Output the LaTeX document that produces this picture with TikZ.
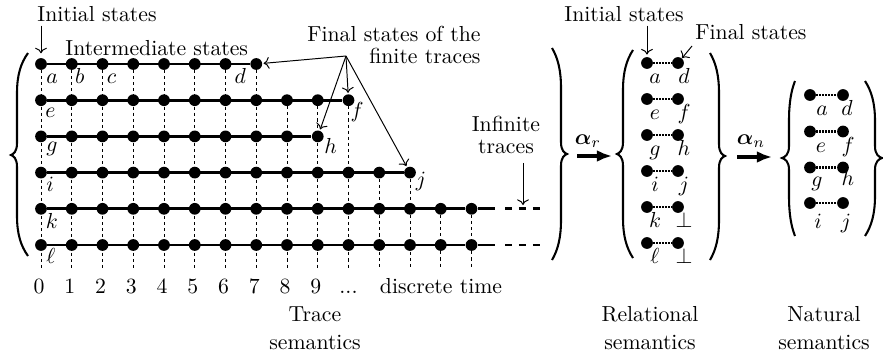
\documentclass[tikz,border=0pt]{standalone}
\usepackage{amsmath,amssymb,bm}
\usetikzlibrary{arrows.meta,backgrounds}
\newcommand\bracepath[6]{%
  \draw[brc] (#1,#2) .. controls ({#4+0.35*(#1-#4)},{#2+10}) and (#4,{#2+22}) .. (#4,{#2+40})
  -- (#4,{#6-12}) .. controls (#4,{#6-3}) and ({#5+0.4*(#4-#5)},{#6-1}) .. (#5,#6)
  .. controls ({#5+0.4*(#4-#5)},{#6+1}) and (#4,{#6+3}) .. (#4,{#6+12})
  -- (#4,{#3-40}) .. controls (#4,{#3-22}) and ({#4+0.35*(#1-#4)},{#3-10}) .. (#1,#3);}
\begin{document}
\begin{tikzpicture}[x=0.46pt,y=-0.46pt,
  dot/.style={circle,fill,inner sep=0pt,minimum size=5.4pt},
  trace/.style={line width=1.2pt},
  vgrid/.style={line width=0.4pt,dash pattern=on 1.4pt off 1.4pt},
  lbl/.style={anchor=base,inner sep=0pt},
  txt/.style={inner sep=0pt},
  thinarr/.style={->,line width=0.45pt},
  bigarr/.style={-{Latex[length=7pt,width=5.5pt]},line width=1.5pt},
  pair/.style={line width=1.2pt,dash pattern=on 0.75pt off 0.6pt},
  brc/.style={line width=0.95pt}]
\useasboundingbox (0,0) rectangle (883,363);

% ---- trace grid
\foreach \r/\last in {0/7,1/10,2/9,3/12,4/14,5/14}{
  \foreach \c in {0,...,\last}{
    \node[dot] (d\r-\c) at ({41+30.75*\c},{64+36.2*\r}) {};
  }
  \draw[trace] (d\r-0) -- (d\r-\last);
}
\begin{pgfonlayer}{background}
\foreach \c/\t in {0/0,1/0,2/0,3/0,4/0,5/0,6/0,7/0,8/1,9/1,10/1,11/3,12/3,13/4,14/4}{
  \coordinate (b\c) at ({41+30.75*\c},268);
  \draw[vgrid] (d\t-\c.center) -- (b\c);
}
\end{pgfonlayer}
\foreach \r in {4,5}{
  \coordinate (te\r) at (495,{64+36.2*\r});
  \coordinate (ts\r) at (505,{64+36.2*\r});
  \coordinate (tf\r) at (542,{64+36.2*\r});
  \draw[trace] (d\r-14) -- (te\r);
  \draw[trace,dash pattern=on 3.2pt off 3.2pt] (ts\r) -- (tf\r);
}

% ---- state labels
\node[lbl] (la) at ([shift={(11,19)}]d0-0.center) {$a$};
\node[lbl] (lb) at ([shift={(8,19)}]d0-1.center) {$b$};
\node[lbl] (lc) at ([shift={(9,19)}]d0-2.center) {$c$};
\node[lbl] (ld) at ([shift={(-16,19)}]d0-7.center) {$d$};
\node[lbl] (le) at ([shift={(9.5,17)}]d1-0.center) {$e$};
\node[lbl] (lf) at ([shift={(8.5,17)}]d1-10.center) {$f$};
\node[lbl] (lg) at ([shift={(11,15)}]d2-0.center) {$g$};
\node[lbl] (lh) at ([shift={(13,17)}]d2-9.center) {$h$};
\node[lbl] (li) at ([shift={(9,19)}]d3-0.center) {$i$};
\node[lbl] (lj) at ([shift={(11,14)}]d3-12.center) {$j$};
\node[lbl] (lk) at ([shift={(11,20)}]d4-0.center) {$k$};
\node[lbl] (ll) at ([shift={(10,18)}]d5-0.center) {$\ell$};

% ---- time axis
\foreach \c in {0,...,9}{
  \node[lbl] (n\c) at ({39+30.75*\c},293) {\c};
}
\node[lbl] (ndots) at ({41+30.75*10},293) {...};
\node[lbl] (dtime) at (441,293) {discrete time};

% ---- annotations
\node[lbl,anchor=base west] (init1) at (37,21) {Initial states};
\draw[thinarr,shorten <=1.8pt,shorten >=2pt] (init1.south -| d0-0) -- (d0-0);
\node[lbl,anchor=base west] (inter) at (65,55) {Intermediate states};
\node[txt,align=right,anchor=north east,font=\fontsize{10}{10}\selectfont] (fin) at (481,26) {Final states of the\\finite traces};
\coordinate (fs) at (346,56);
\foreach \t in {d0-7,d1-10,d2-9,d3-12}{
  \draw[thinarr,shorten >=0.5pt] (fs) -- (\t);
}
\node[txt,align=center,anchor=north,font=\fontsize{10}{10}\selectfont] (inf) at (506,116) {Infinite\\traces};
\coordinate (ia) at (523,205);
\draw[thinarr,shorten <=4pt] (inf.south -| ia) -- (ia);

\node[txt,align=center,anchor=north,font=\fontsize{10}{12.9}\selectfont] (tsem) at (315,306) {Trace\\semantics};
\node[txt,align=center,anchor=north,font=\fontsize{10}{12.9}\selectfont] (rsem) at (650,306) {Relational\\semantics};
\node[txt,align=center,anchor=north,font=\fontsize{10}{12.9}\selectfont] (nsem) at (824,306) {Natural\\semantics};

% ---- braces
\bracepath{28}{53}{256}{17}{11}{155}
\bracepath{552}{48}{260}{561}{567}{154}
\bracepath{633}{50}{258}{623}{617}{154}
\bracepath{710}{53}{260}{719}{725}{156}
\bracepath{795}{81}{236}{789}{782}{158}
\bracepath{865}{81}{236}{875}{882}{158}

% ---- abstractions
\coordinate (ar1) at (577,156);
\coordinate (ar2) at (612,156);
\draw[bigarr] (ar1) -- (ar2);
\node[lbl] (alr) at (588,144) {$\bm{\alpha}_r$};
\coordinate (an1) at (737,157);
\coordinate (an2) at (772,157);
\draw[bigarr] (an1) -- (an2);
\node[lbl] (aln) at (751,144) {$\bm{\alpha}_n$};

% ---- relational semantics
\foreach \r/\L/\R in {0/a/d,1/e/f,2/g/h,3/i/j,4/k/\bot,5/\ell/\bot}{
  \node[dot] (rl\r) at (647,{63+36*\r}) {};
  \node[dot] (rr\r) at (678,{63+36*\r}) {};
  \draw[pair] (rl\r) -- (rr\r);
  \node[lbl] (rlt\r) at ([shift={(8,20)}]rl\r.center) {$\L$};
  \node[lbl] (rrt\r) at ([shift={(6,20)}]rr\r.center) {$\R$};
}
\node[lbl] (init2) at (624,21) {Initial states};
\draw[thinarr,shorten <=1.8pt,shorten >=1pt] (init2.south -| rl0) -- (rl0);
\node[lbl,anchor=base west] (fin2) at (695,39) {Final states};
\coordinate (fa) at (692,46);
\draw[thinarr] (fa) -- (rr0);

% ---- natural semantics
\foreach \r/\y/\L/\lx/\ly/\R/\rx/\ry in {0/95/a/12/20/d/4/20,1/131.5/e/11/20.5/f/5/20.5,2/167.5/g/7/19/h/5/18,3/203/i/8/25/j/3/25}{
  \node[dot] (nl\r) at (810,\y) {};
  \node[dot] (nr\r) at (843,\y) {};
  \draw[pair] (nl\r) -- (nr\r);
  \node[lbl] (nlt\r) at ([shift={(\lx,\ly)}]nl\r.center) {$\L$};
  \node[lbl] (nrt\r) at ([shift={(\rx,\ry)}]nr\r.center) {$\R$};
}
\end{tikzpicture}
\end{document}
